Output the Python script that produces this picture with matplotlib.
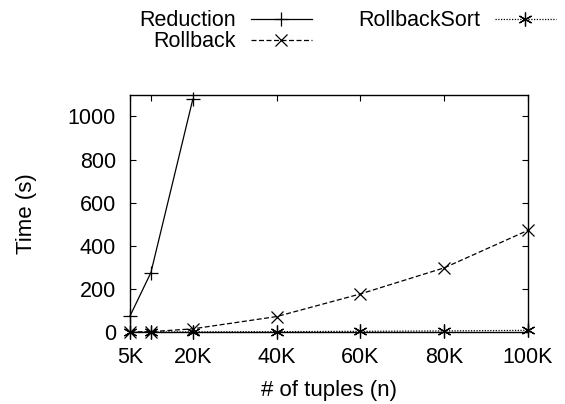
import matplotlib
matplotlib.use("Agg")
import matplotlib.pyplot as plt

plt.rcParams['font.family'] = ['Liberation Sans', 'DejaVu Sans']

n_reduction = [5000, 10000, 20000]
t_reduction = [74, 276, 1080]

n_rollback = [5000, 10000, 20000, 40000, 60000, 80000, 100000]
t_rollback = [0.5, 2, 15, 72, 177, 298, 472]

n_sort = [5000, 10000, 20000, 40000, 60000, 80000, 100000]
t_sort = [0.1, 0.3, 1, 2, 3.5, 5.5, 8]

xtick_pos = [5000, 10000, 20000, 40000, 60000, 80000, 100000]
xtick_labels = ["5K", "", "20K", "40K", "60K", "80K", "100K"]
ytick_pos = [0, 200, 400, 600, 800, 1000]

FS = 15.5

fig = plt.figure(figsize=(5.65, 4.04), dpi=100)
ax = fig.add_axes([0.230, 0.178, 0.7045, 0.587])

lw = 0.9
ax.plot(n_reduction, t_reduction, color='black', lw=lw, ls='-', marker='+',
        markersize=10, markeredgewidth=lw, label='Reduction', clip_on=False)
ax.plot(n_rollback, t_rollback, color='black', lw=lw, ls=(0, (4, 2)), marker='x',
        markersize=8, markeredgewidth=lw, label='Rollback', clip_on=False)
ax.plot(n_sort, t_sort, color='black', lw=lw, ls=(0, (1, 1.2)), marker=(6, 2, 0),
        markersize=10, markeredgewidth=lw, label='RollbackSort', clip_on=False)

ax.set_xlim(5000, 100000)
ax.set_ylim(0, 1100)
ax.set_xticks(xtick_pos)
ax.set_xticklabels(xtick_labels)
ax.set_yticks(ytick_pos)
ax.tick_params(direction='in', length=4.5, width=0.8, top=True, right=True,
               labelsize=FS)
ax.tick_params(axis='x', pad=10.5)
ax.tick_params(axis='y', pad=10)
for s in ax.spines.values():
    s.set_linewidth(1.0)

ax.set_xlabel('# of tuples (n)', fontsize=16, labelpad=9)
ax.set_ylabel('Time (s)', fontsize=16, labelpad=22)

fig.legend(loc='upper right', bbox_to_anchor=(0.992, 0.985), ncol=2,
           frameon=False, markerfirst=False, fontsize=FS, handlelength=2.85,
           handletextpad=0.68, columnspacing=2.15, labelspacing=0.0,
           borderpad=0.2, borderaxespad=0.0)

fig.savefig('out.png', dpi=100)
